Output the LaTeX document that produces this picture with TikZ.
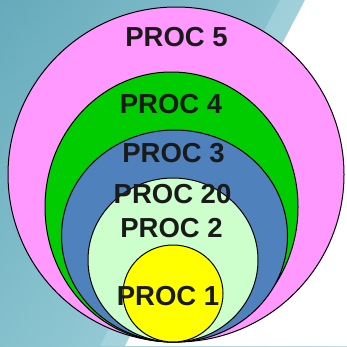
\documentclass[tikz,border=0pt]{standalone}
\usepackage{fontspec}
\setmainfont{Liberation Sans}
\usetikzlibrary{shapes.geometric}
\definecolor{tealdark}{HTML}{66ABBC}
\definecolor{teallight}{HTML}{BFE4EA}
\definecolor{cyanlow}{HTML}{A4D6DE}
\definecolor{procpink}{HTML}{FF99FF}
\definecolor{procgreen}{HTML}{00CC00}
\definecolor{procblue}{HTML}{4F81BD}
\definecolor{procmint}{HTML}{CCFFCC}
\definecolor{procyellow}{HTML}{FFFF00}
\definecolor{labelink}{HTML}{1A1A1A}
\begin{document}
\begin{tikzpicture}[x=1pt,y=-1pt,
  ring/.style={ellipse, draw=black, line width=1pt, inner sep=0pt},
  proclabel/.style={anchor=base, inner sep=0pt, text=labelink,
    font=\fontsize{27.5}{30}\selectfont\bfseries}]
  % backdrop
  \useasboundingbox (0,0) rectangle (347,346);
  \shade[left color=tealdark, right color=teallight] (0,0) rectangle (347,346);
  \shade[top color=tealdark, bottom color=cyanlow, opacity=0.5] (0,0) rectangle (347,346);
  \fill[teallight, opacity=0.4] (280,0) -- (305,0) -- (125,346) -- (100,346) -- cycle;
  \fill[white] (305,0) -- (347,0) -- (347,346) -- (125,346) -- cycle;
  % nested processes, all touching at the bottom
  \node[ring, fill=procpink,   minimum width=336pt, minimum height=335pt] (p5) at (176,174.5) {};
  \node[ring, fill=procgreen,  minimum width=253pt, minimum height=270pt] (p4) at (171.5,207) {};
  \node[ring, fill=procblue,   minimum width=226pt, minimum height=212pt] (p3) at (174.5,236) {};
  \node[ring, fill=procmint,   minimum width=170pt, minimum height=164pt] (p2) at (173,260) {};
  \node[ring, fill=procyellow, minimum width=100pt, minimum height=97pt]  (p1) at (173,293.5) {};
  % labels
  \node[proclabel] (l5)  at (176.5,46.7)  {PROC 5};
  \node[proclabel] (l4)  at (171,113)     {PROC 4};
  \node[proclabel] (l3)  at (173.5,162.7) {PROC 3};
  \node[proclabel] (l20) at (172.5,203.3) {PROC 20};
  \node[proclabel] (l2)  at (171.5,237)   {PROC 2};
  \node[proclabel] (l1)  at (168,305)     {PROC 1};
\end{tikzpicture}
\end{document}
